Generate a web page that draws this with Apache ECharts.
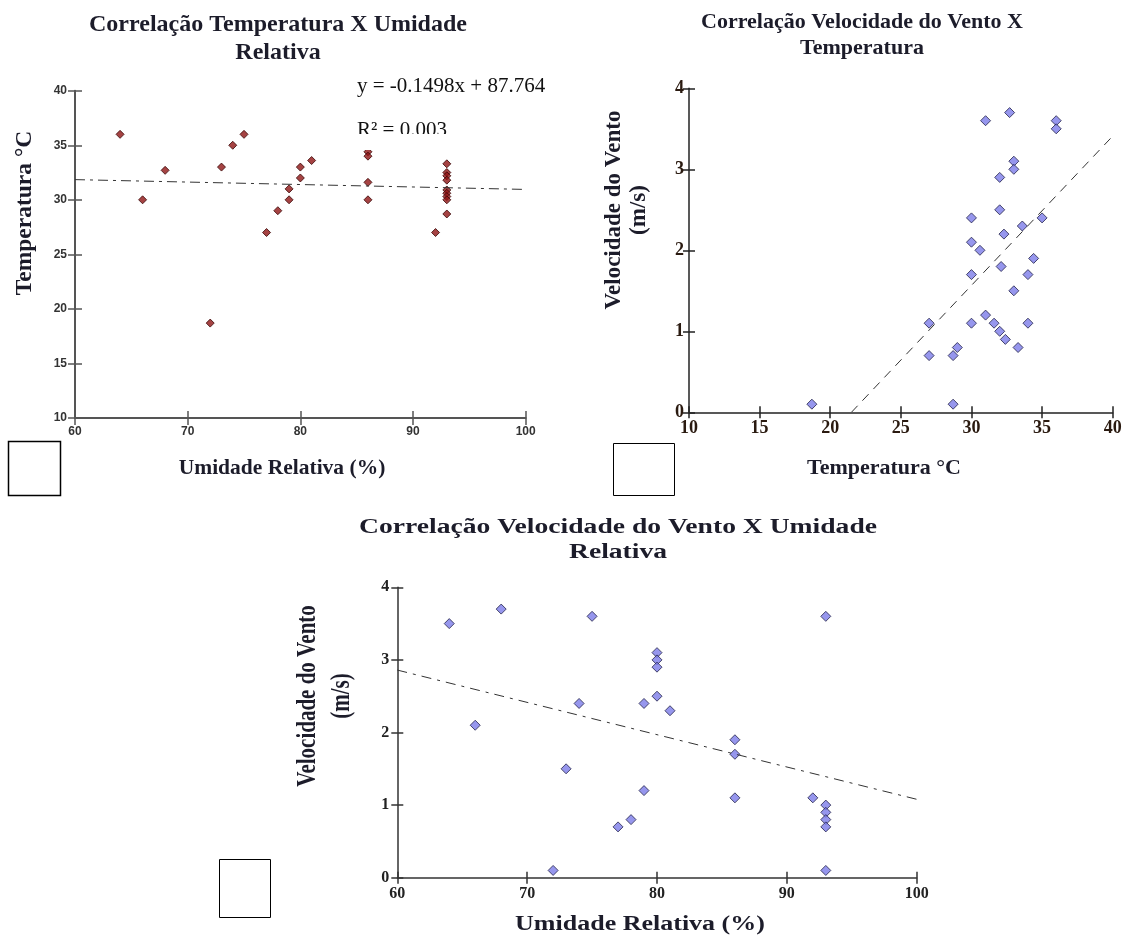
<!DOCTYPE html>
<html>
<head>
<meta charset="utf-8">
<script src="https://cdn.jsdelivr.net/npm/echarts@6/dist/echarts.min.js"></script>
<style>
html, body { margin: 0; padding: 0; background: #fff; }
#chart { width: 1123px; height: 936px; }
</style>
</head>
<body>
<div id="chart"></div>
<script>
// Temperatura x Umidade Relativa
const umidadeT = [64, 66, 68, 72, 73, 74, 75, 77, 78, 79, 79, 80, 80, 81, 86, 86, 86, 86, 92, 93, 93, 93, 93, 93, 93, 93, 93, 93];
const temperaturaU = [36, 30, 32.7, 18.7, 33, 35, 36, 27, 29, 31, 30, 33, 32, 33.6, 34.4, 34, 31.6, 30, 27, 33.3, 32.5, 32.2, 31.8, 30.9, 30.6, 30.3, 30, 28.7];
const trendX1 = [60, 100];
const trendY1 = [31.85, 30.95];

// Velocidade do Vento x Temperatura
const temperaturaV = [31, 32.7, 36, 36, 33, 33, 32, 32, 30, 32.3, 33.6, 35, 30, 30.6, 34.4, 32.1, 30, 34, 33, 31, 27, 30, 31.6, 34, 32, 32.4, 33.3, 27, 28.7, 29, 18.7, 28.7];
const ventoT = [3.6, 3.7, 3.6, 3.5, 3.1, 3.0, 2.9, 2.5, 2.4, 2.2, 2.3, 2.4, 2.1, 2.0, 1.9, 1.8, 1.7, 1.7, 1.5, 1.2, 1.1, 1.1, 1.1, 1.1, 1.0, 0.9, 0.8, 0.7, 0.7, 0.8, 0.1, 0.1];
const trendX2 = [21.5, 40];
const trendY2 = [0, 3.41];

// Velocidade do Vento x Umidade Relativa
const umidadeV = [64, 68, 75, 74, 66, 73, 77, 78, 72, 79, 79, 80, 80, 80, 80, 81, 86, 86, 86, 92, 93, 93, 93, 93, 93, 93];
const ventoU = [3.5, 3.7, 3.6, 2.4, 2.1, 1.5, 0.7, 0.8, 0.1, 2.4, 1.2, 3.1, 3.0, 2.9, 2.5, 2.3, 1.9, 1.7, 1.1, 1.1, 3.6, 1.0, 0.9, 0.8, 0.7, 0.1];
const trendX3 = [60, 100];
const trendY3 = [2.86, 1.08];

const serif = 'Liberation Serif';
const titleColor = '#1c1c2a';

function pairs(xs, ys) {
  return xs.map((x, i) => [x, ys[i]]);
}

// main axis (ticks outside + labels) plus a twin with ticks inside, so the ticks cross the line
function axisPair(base, line, tick, label) {
  const main = Object.assign({}, base, { axisLine: line, axisTick: tick, axisLabel: label });
  const twin = Object.assign({}, base, {
    axisLine: { show: false },
    axisLabel: { show: false },
    axisTick: Object.assign({}, tick, { inside: true })
  });
  return [main, twin];
}

const mychart = echarts.init(document.getElementById('chart'));

const line1 = { lineStyle: { color: '#555', width: 2 } };
const line2 = { lineStyle: { color: '#222', width: 1.5 } };
const line3 = { lineStyle: { color: '#333', width: 1.5 } };
const tick1 = { length: 7, lineStyle: { color: '#555', width: 1.5 } };
const tick2 = { length: 6, lineStyle: { color: '#222', width: 1.5 } };
const tick3 = { length: 6, lineStyle: { color: '#333', width: 1.5 } };

const lab1 = { color: '#333', fontFamily: 'Liberation Sans', fontWeight: 'bold', fontSize: 12, margin: 8 };
const lab2 = { color: '#2a1a10', fontFamily: serif, fontWeight: 'bold', fontSize: 18, margin: 7 };
const lab3 = { color: '#222', fontFamily: serif, fontWeight: 'bold', fontSize: 16, margin: 8 };

const xs1 = axisPair({ type: 'value', gridIndex: 0, position: 'bottom', min: 60, max: 100, interval: 10, splitLine: { show: false } }, line1, tick1, lab1);
const ys1 = axisPair({ type: 'value', gridIndex: 0, position: 'left', min: 10, max: 40, interval: 5, splitLine: { show: false } }, line1, tick1, lab1);
const xs2 = axisPair({ type: 'value', gridIndex: 1, position: 'bottom', min: 10, max: 40, interval: 5, splitLine: { show: false } }, line2, tick2, lab2);
const ys2 = axisPair({ type: 'value', gridIndex: 1, position: 'left', min: 0, max: 4, interval: 1, splitLine: { show: false } }, line2, tick2, Object.assign({}, lab2, { margin: 5 }));
const xs3 = axisPair({ type: 'value', gridIndex: 2, position: 'bottom', min: 60, max: 100, interval: 10, splitLine: { show: false } }, line3, tick3, lab3);
const ys3 = axisPair({ type: 'value', gridIndex: 2, position: 'left', min: 0, max: 4, interval: 1, splitLine: { show: false } }, line3, tick3, lab3);

const redDot = { color: '#8e1414', borderColor: '#3a0505', borderWidth: 1 };
const blueDot = { color: '#7c7ce8', borderColor: '#23234a', borderWidth: 1 };

function label(text, x, y, size, extra) {
  return Object.assign({
    type: 'text', x: x, y: y,
    style: { text: text, fontFamily: serif, fontWeight: 'bold', fontSize: size, lineHeight: size + 3,
      fill: titleColor, align: 'center', verticalAlign: 'middle' }
  }, extra || {});
}

const option = {
  animation: false,
  backgroundColor: '#fff',
  grid: [
    { left: 75, top: 90.7, width: 450.7, height: 327.3, outerBoundsMode: 'none' },
    { left: 689, top: 88.3, width: 423.7, height: 324, outerBoundsMode: 'none' },
    { left: 397.3, top: 587.3, width: 519.4, height: 290.4, outerBoundsMode: 'none' }
  ],
  xAxis: [xs1[0], xs1[1], xs2[0], xs2[1], xs3[0], xs3[1]],
  yAxis: [ys1[0], ys1[1], ys2[0], ys2[1], ys3[0], ys3[1]],
  series: [
    { type: 'line', xAxisIndex: 0, yAxisIndex: 0, data: pairs(trendX1, trendY1), showSymbol: false, silent: true,
      lineStyle: { color: '#333', width: 1, type: [10, 5, 3, 5] } },
    { type: 'scatter', xAxisIndex: 0, yAxisIndex: 0, symbol: 'diamond', symbolSize: 8, itemStyle: redDot,
      data: pairs(umidadeT, temperaturaU) },
    { type: 'line', xAxisIndex: 2, yAxisIndex: 2, data: pairs(trendX2, trendY2), showSymbol: false, silent: true,
      lineStyle: { color: '#333', width: 1, type: [9, 7] } },
    { type: 'scatter', xAxisIndex: 2, yAxisIndex: 2, symbol: 'diamond', symbolSize: 10, itemStyle: blueDot,
      data: pairs(temperaturaV, ventoT) },
    { type: 'line', xAxisIndex: 4, yAxisIndex: 4, data: pairs(trendX3, trendY3), showSymbol: false, silent: true,
      lineStyle: { color: '#333', width: 1, type: [10, 6, 3, 6] } },
    { type: 'scatter', xAxisIndex: 4, yAxisIndex: 4, symbol: 'diamond', symbolSize: 10, itemStyle: blueDot,
      data: pairs(umidadeV, ventoU) }
  ],
  graphic: [
    // titles
    label('Correlação Temperatura X Umidade\nRelativa', 278, 39, 24, { style: { text: 'Correlação Temperatura X Umidade\nRelativa',
      fontFamily: serif, fontWeight: 'bold', fontSize: 24, lineHeight: 28, fill: titleColor, align: 'center', verticalAlign: 'middle' } }),
    label('Correlação Velocidade do Vento X\nTemperatura', 862, 35, 22, { style: { text: 'Correlação Velocidade do Vento X\nTemperatura',
      fontFamily: serif, fontWeight: 'bold', fontSize: 22, lineHeight: 26, fill: titleColor, align: 'center', verticalAlign: 'middle' } }),
    label('Correlação Velocidade do Vento X Umidade\nRelativa', 618, 540, 20, { scaleX: 1.38, style: { text: 'Correlação Velocidade do Vento X Umidade\nRelativa',
      fontFamily: serif, fontWeight: 'bold', fontSize: 20, lineHeight: 25, fill: titleColor, align: 'center', verticalAlign: 'middle' } }),
    // axis names
    label('Umidade Relativa (%)', 282, 468, 21.5),
    label('Temperatura °C', 25, 213, 23.5, { rotation: Math.PI / 2 }),
    label('Temperatura °C', 884, 468, 22),
    label('Velocidade do Vento\n(m/s)', 627, 210, 23, { rotation: Math.PI / 2, style: { text: 'Velocidade do Vento\n(m/s)',
      fontFamily: serif, fontWeight: 'bold', fontSize: 23, lineHeight: 25, fill: titleColor, align: 'center', verticalAlign: 'middle' } }),
    label('Umidade Relativa (%)', 640, 925, 20, { scaleX: 1.3 }),
    label('Velocidade do Vento\n(m/s)', 325, 696, 21, { rotation: Math.PI / 2, scaleY: 1.3, style: { text: 'Velocidade do Vento\n(m/s)',
      fontFamily: serif, fontWeight: 'bold', fontSize: 21, lineHeight: 26, fill: titleColor, align: 'center', verticalAlign: 'middle' } }),
    // trend equation (R² partly hidden as in the source)
    { type: 'text', x: 357, y: 76, style: { text: 'y = -0.1498x + 87.764', fontFamily: serif, fontSize: 21, fill: '#111' } },
    { type: 'text', x: 357, y: 120, style: { text: 'R² = 0.003', fontFamily: serif, fontSize: 21, fill: '#111' } },
    { type: 'rect', shape: { x: 350, y: 134, width: 130, height: 16 }, style: { fill: '#fff' }, z: 10 },
    // empty boxes
    { type: 'rect', shape: { x: 8.5, y: 441.5, width: 52, height: 54 }, style: { fill: 'none', stroke: '#000', lineWidth: 1.5 } },
    { type: 'rect', shape: { x: 613.5, y: 443.5, width: 61, height: 52 }, style: { fill: 'none', stroke: '#000', lineWidth: 1 } },
    { type: 'rect', shape: { x: 219.5, y: 859.5, width: 51, height: 58 }, style: { fill: 'none', stroke: '#000', lineWidth: 1 } }
  ]
};

mychart.setOption(option, true);
</script>
</body>
</html>
